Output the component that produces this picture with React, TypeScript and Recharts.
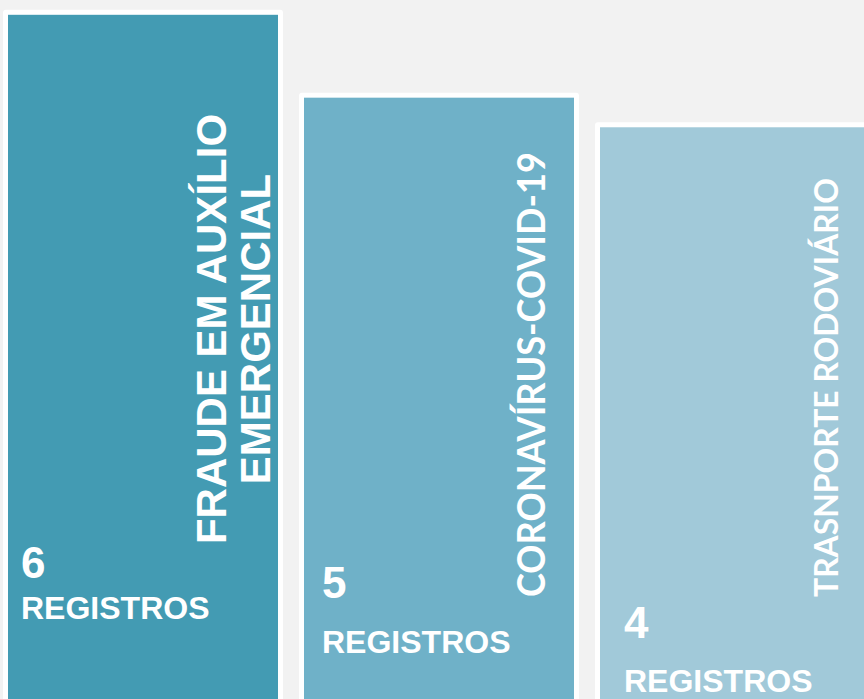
import { BarChart, Bar, XAxis, YAxis } from 'recharts';

// categorias (uma entrada por barra, linhas do título)
const categorias = [
  ['FRAUDE EM AUXÍLIO', 'EMERGENCIAL'],
  ['CORONAVÍRUS-COVID-19'],
  ['TRASNPORTE RODOVIÁRIO'],
];
// quantidade de registros mostrada em cada barra
const registros = [6, 5, 4];
// altura relativa de cada barra (0-100)
const alturas = [98, 86.8, 82.8];

const cores = ['#439bb3', '#6fb1c8', '#a1c9d9'];

const chartData = categorias.map((linhas, i) => ({
  nome: linhas.join(' '),
  linhas,
  registros: registros[i],
  altura: alturas[i],
}));

// posições dos textos dentro de cada barra
const layout = [
  { numDx: 13, numY: 578, regY: 619, titleMode: 'center', titleY: 329, baseDx: [218, 262], font: '"Liberation Sans", Arial, sans-serif', titleSize: 42, titleLen: 0 },
  { numDx: 18, numY: 598, regY: 653, titleMode: 'start', titleY: 597, baseDx: [241], font: 'Lato, sans-serif', titleSize: 38, titleLen: 445 },
  { numDx: 24, numY: 638, regY: 692, titleMode: 'start', titleY: 597, baseDx: [238], font: 'Lato, sans-serif', titleSize: 32, titleLen: 419 },
];

const BORDER = 5;

const BarShape = (props: any) => {
  const { x, y, width, height, index, payload } = props;
  const l = layout[index];
  const sans = '"Liberation Sans", Arial, sans-serif';
  return (
    <g>
      <rect
        x={x - BORDER}
        y={y - BORDER}
        width={width + BORDER * 2}
        height={height + BORDER * 2}
        rx={3}
        fill="#ffffff"
      />
      <rect x={x} y={y} width={width} height={height} fill={cores[index]} />
      {payload.linhas.map((linha: string, i: number) => {
        const bx = x + l.baseDx[i];
        return (
          <text
            key={i}
            x={bx}
            y={l.titleY}
            transform={`rotate(-90, ${bx}, ${l.titleY})`}
            textAnchor={l.titleMode === 'center' ? 'middle' : 'start'}
            fill="#ffffff"
            fontFamily={l.font}
            fontWeight="bold"
            fontSize={l.titleSize}
            {...(l.titleLen ? { textLength: l.titleLen, lengthAdjust: 'spacingAndGlyphs' } : {})}
          >
            {linha}
          </text>
        );
      })}
      <text x={x + l.numDx} y={l.numY} fill="#ffffff" fontFamily={sans} fontWeight="bold" fontSize={44}>
        {payload.registros}
      </text>
      <text x={x + l.numDx} y={l.regY} fill="#ffffff" fontFamily={sans} fontWeight="bold" fontSize={32}>
        REGISTROS
      </text>
    </g>
  );
};

export default function App() {
  return (
    <div
      style={{
        position: 'absolute',
        left: 0,
        top: 0,
        width: 864,
        height: 699,
        overflow: 'hidden',
        background: '#f2f2f2',
      }}
    >
      <div style={{ position: 'absolute', left: -5, top: 0 }}>
        <BarChart
          width={888}
          height={740}
          data={chartData}
          margin={{ top: 0, right: 0, left: 0, bottom: 0 }}
          barCategoryGap={26}
        >
          <XAxis dataKey="nome" hide />
          <YAxis type="number" domain={[0, 100]} hide />
          <Bar dataKey="altura" barSize={270} shape={BarShape} isAnimationActive={false} />
        </BarChart>
      </div>
    </div>
  );
}
